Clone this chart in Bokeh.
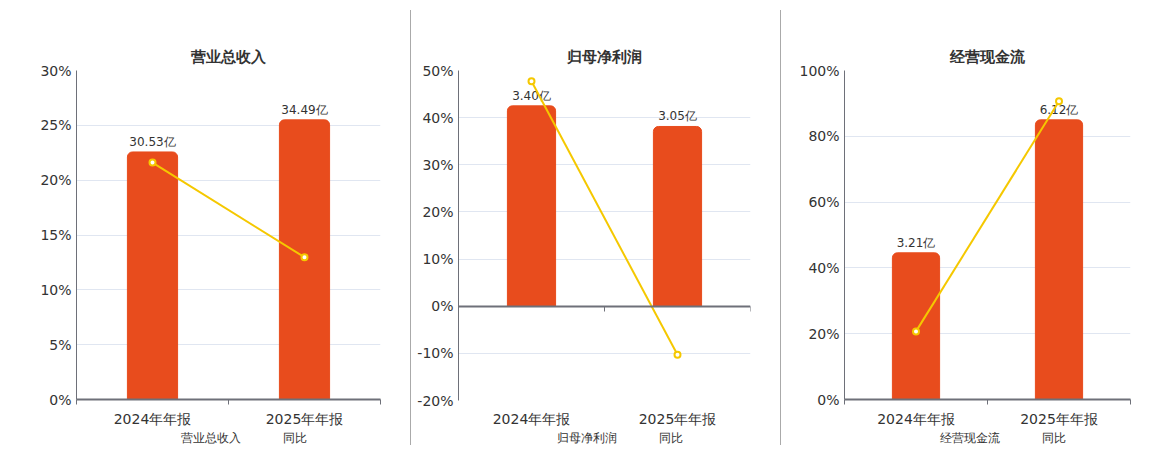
from bokeh.plotting import figure
from bokeh.models import (Range1d, LinearAxis, FixedTicker, PrintfTickFormatter, Legend,
                          LegendItem, ColumnDataSource, Title, Spacer)
from bokeh.layouts import row, column
from bokeh.embed import file_html
from bokeh.resources import INLINE
from bokeh.core.properties import value

# ---------------- data ----------------
categories = ["2024年年报", "2025年年报"]

titles = ["营业总收入", "归母净利润", "经营现金流"]
bar_names = ["营业总收入", "归母净利润", "经营现金流"]

revenue = [30.53, 34.49]          # 亿
revenue_yoy = [21.6, 12.97]        # %
profit = [3.40, 3.05]
profit_yoy = [47.7, -10.3]
cashflow = [3.21, 6.12]
cashflow_yoy = [20.7, 90.65]

pct_ranges = [(0, 30, 5), (-20, 50, 10), (0, 100, 20)]

# ---------------- style ----------------
BAR = "#E84C1D"
LINE = "#F5C800"
AXIS = "#6E7079"
GRID = "#E0E6F1"
TXT = "#333333"
FONT = "DejaVu Sans"

widths = [410, 369, 371]
borders = [(76, 30), (47, 30), (63, 22)]
title_dx = [-18, -24, -26]
H_MAIN = 429
H_LEG = 18


def make_panel(i, bars, yoy):
    lo, hi, step = pct_ranges[i]
    top = max(bars) / 0.85
    bar_lo = lo / hi * top
    p = figure(width=widths[i], height=H_MAIN, output_backend="svg", toolbar_location=None,
               x_range=Range1d(0, len(categories)), y_range=Range1d(lo, hi),
               min_border_left=borders[i][0], min_border_right=borders[i][1],
               min_border_top=70, min_border_bottom=24)
    p.extra_y_ranges = {"bar": Range1d(bar_lo, top)}
    p.outline_line_color = None

    xs = [k + 0.5 for k in range(len(categories))]
    src = ColumnDataSource(dict(x=xs, bar=bars, yoy=yoy,
                                lab=[f"{v:.2f}亿" for v in bars]))

    p.xgrid.grid_line_color = None
    p.ygrid.grid_line_color = GRID
    p.ygrid.ticker = FixedTicker(ticks=list(range(lo, hi + 1, step)))

    ya = p.yaxis[0]
    ya.ticker = FixedTicker(ticks=list(range(lo, hi + 1, step)))
    ya.formatter = PrintfTickFormatter(format="%d%%")
    ya.axis_line_color = AXIS
    ya.major_tick_line_color = None
    ya.major_tick_out = 0
    ya.minor_tick_line_color = None
    ya.major_label_standoff = 5
    ya.major_label_text_font = FONT
    ya.major_label_text_font_size = "14px"
    ya.major_label_text_color = TXT

    xa = p.xaxis[0]
    xa.ticker = FixedTicker(ticks=xs, minor_ticks=list(range(len(categories) + 1)))
    xa.major_label_overrides = {x: c for x, c in zip(xs, categories)}
    xa.major_tick_line_color = None
    xa.major_tick_out = 0
    xa.major_label_standoff = 6
    xa.major_label_text_font = FONT
    xa.major_label_text_font_size = "14px"
    xa.major_label_text_color = TXT
    if lo == 0:
        xa.axis_line_color = AXIS
        xa.axis_line_width = 2
        xa.minor_tick_line_color = AXIS
        xa.minor_tick_in = 0
        xa.minor_tick_out = 5
    else:
        xa.axis_line_color = None
        xa.minor_tick_line_color = None
        zero = LinearAxis(fixed_location=0,
                          ticker=FixedTicker(ticks=[], minor_ticks=list(range(len(categories) + 1))),
                          major_label_text_font_size="0px", axis_line_color=AXIS, axis_line_width=2,
                          minor_tick_line_color=AXIS, minor_tick_in=0, minor_tick_out=5,
                          major_tick_line_color=None, major_tick_out=0)
        p.add_layout(zero, "below")

    p.vbar(x="x", top="bar", bottom=0, width=0.33, source=src, y_range_name="bar",
           fill_color=BAR, line_color=BAR, border_radius=(5, 5, 0, 0))
    p.text(x="x", y="bar", text="lab", source=src, y_range_name="bar",
           text_align="center", text_baseline="bottom", y_offset=-3,
           text_font=value(FONT), text_font_size="12px", text_color=TXT)

    p.line(x="x", y="yoy", source=src, line_color=LINE, line_width=2)
    p.scatter(x="x", y="yoy", source=src, size=6, marker="circle",
              fill_color="white", line_color=LINE, line_width=2)

    t = Title(text=titles[i], align="center", offset=title_dx[i],
              text_font=FONT, text_font_size="15px", text_font_style="bold",
              text_color=TXT)
    p.add_layout(t, "above")

    # legend in its own thin figure below the chart
    lg = figure(width=widths[i], height=H_LEG, output_backend="svg", toolbar_location=None,
                x_range=Range1d(0, 1), y_range=Range1d(0, 1),
                x_axis_location=None, y_axis_location=None,
                min_border=0, min_border_left=0, min_border_right=0,
                min_border_top=0, min_border_bottom=0)
    lg.outline_line_color = None
    lg.grid.visible = False
    empty = ColumnDataSource(dict(x=[], y=[]))
    vb = lg.vbar(x="x", top="y", width=0.33, source=empty, fill_color=BAR, line_color=BAR)
    ln = lg.line(x="x", y="y", source=empty, line_color=LINE, line_width=2)
    sc = lg.scatter(x="x", y="y", source=empty, size=9, marker="circle",
                    fill_color="white", line_color=LINE, line_width=2)
    legend = Legend(items=[LegendItem(label=bar_names[i], renderers=[vb]),
                           LegendItem(label="同比", renderers=[ln, sc])],
                    orientation="horizontal", location="center",
                    glyph_width=25, glyph_height=14, label_standoff=6, spacing=11,
                    padding=0, margin=0, border_line_color=None, background_fill_alpha=0,
                    label_text_font=FONT, label_text_font_size="12px",
                    label_text_color=TXT)
    lg.add_layout(legend)
    return column(p, lg, spacing=0)


c1 = make_panel(0, revenue, revenue_yoy)
c2 = make_panel(1, profit, profit_yoy)
c3 = make_panel(2, cashflow, cashflow_yoy)

sep1 = Spacer(width=1, height=435, margin=(10, 0, 0, 0), styles={"background-color": "#AAAAAA"})
sep2 = Spacer(width=1, height=435, margin=(10, 0, 0, 0), styles={"background-color": "#AAAAAA"})

layout = row(c1, sep1, c2, sep2, c3)
open("out.html", "w").write(file_html(layout, INLINE))
